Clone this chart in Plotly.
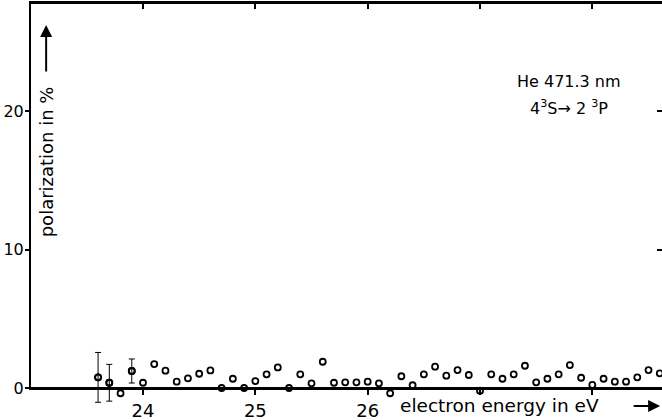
import plotly.graph_objects as go

# electron energy (eV) and polarization (%)
energy = [23.6, 23.7, 23.8, 23.9, 24.0, 24.1, 24.2, 24.3, 24.4, 24.5,
          24.6, 24.7, 24.8, 24.9, 25.0, 25.1, 25.2, 25.3, 25.4, 25.5,
          25.6, 25.7, 25.8, 25.9, 26.0, 26.1, 26.2, 26.3, 26.4, 26.5,
          26.6, 26.7, 26.8, 26.9, 27.0, 27.1, 27.2, 27.3, 27.4, 27.5,
          27.6, 27.7, 27.8, 27.9, 28.0, 28.1, 28.2, 28.3, 28.4, 28.5, 28.6]
polarization = [0.77, 0.38, -0.38, 1.23, 0.38, 1.73, 1.25, 0.46, 0.70, 1.03,
                1.27, 0.0, 0.67, 0.0, 0.50, 0.99, 1.49, 0.0, 0.99, 0.34,
                1.90, 0.38, 0.41, 0.41, 0.46, 0.34, -0.38, 0.85, 0.20, 0.99,
                1.54, 0.89, 1.30, 0.94, -0.20, 0.99, 0.67, 0.99, 1.61, 0.41,
                0.67, 0.99, 1.66, 0.74, 0.22, 0.67, 0.46, 0.46, 0.77, 1.30, 1.06]

# points with error bars
err_energy = [23.6, 23.7, 23.9]
err_value = [0.77, 0.38, 1.23]
err_size = [1.8, 1.33, 0.87]

x_tickvals = [24, 25, 26, 27, 28]
x_ticktext = ["24", "25", "26", "", ""]
y_tickvals = [0, 10, 20]
y_ticktext = ["0", "10", "20"]

FONT = "DejaVu Sans"
X_RANGE = [23.003, 28.62]
Y_TOP = 27.84
Y_DATA_RANGE = [-1.446, Y_TOP]      # data layer reaches a little below zero
Y_FRAME_RANGE = [0, Y_TOP]          # frame (axes) starts at zero
ZERO_POS = (0 - Y_DATA_RANGE[0]) / (Y_DATA_RANGE[1] - Y_DATA_RANGE[0])

marker_style = dict(symbol="circle-open", size=6, color="black", line=dict(width=1.8, color="black"))

fig = go.Figure()
fig.add_trace(go.Scatter(
    x=err_energy, y=err_value, mode="markers", marker=marker_style,
    error_y=dict(type="data", array=err_size, visible=True, color="black", thickness=1, width=3),
    cliponaxis=False, showlegend=False, hoverinfo="skip"))
fig.add_trace(go.Scatter(
    x=energy, y=polarization, mode="markers", marker=marker_style,
    cliponaxis=False, showlegend=False))
# dummy traces to activate the frame axes
fig.add_trace(go.Scatter(x=[None], y=[None], xaxis="x3", yaxis="y3", showlegend=False))
fig.add_trace(go.Scatter(x=[None], y=[None], xaxis="x4", yaxis="y4", showlegend=False))

hidden = dict(visible=False, showgrid=False, zeroline=False, automargin=False)

fig.update_layout(
    width=662, height=420,
    margin=dict(l=31, r=0, t=3, b=12, autoexpand=False),
    paper_bgcolor="white", plot_bgcolor="rgba(0,0,0,0)",
    font=dict(family=FONT, color="black", size=18),
    # data layer
    xaxis=dict(range=X_RANGE, anchor="y", **hidden),
    yaxis=dict(range=Y_DATA_RANGE, anchor="x", **hidden),
    # frame: bottom and left axes
    xaxis3=dict(range=X_RANGE, anchor="y3", domain=[0, 1], automargin=False,
                tickvals=x_tickvals, ticktext=x_ticktext,
                showline=True, linecolor="black", linewidth=2,
                ticks="outside", ticklen=5, tickwidth=2, tickcolor="black",
                showgrid=False, zeroline=False, tickfont=dict(size=18, family=FONT)),
    yaxis3=dict(range=Y_FRAME_RANGE, anchor="x3", domain=[ZERO_POS, 1], automargin=False,
                tickvals=y_tickvals, ticktext=y_ticktext,
                showline=True, linecolor="black", linewidth=2,
                ticks="outside", ticklen=4, tickwidth=2, tickcolor="black",
                ticklabelstandoff=-2,
                showgrid=False, zeroline=False, tickfont=dict(size=16, family=FONT)),
    # frame: top and right ticks
    xaxis4=dict(range=X_RANGE, overlaying="x3", side="top", anchor="y3", automargin=False,
                tickvals=x_tickvals, showticklabels=False,
                showline=True, linecolor="black", linewidth=2,
                ticks="inside", ticklen=6, tickwidth=2, tickcolor="black",
                showgrid=False, zeroline=False),
    yaxis4=dict(range=Y_FRAME_RANGE, overlaying="y3", side="right", anchor="x3", automargin=False,
                tickvals=y_tickvals, showticklabels=False, showline=False,
                ticks="inside", ticklen=5, tickwidth=2, tickcolor="black",
                showgrid=False, zeroline=False),
    # frame lines (bottom axis at zero, top border)
    shapes=[
        dict(type="line", xref="x domain", yref="y", x0=0, x1=1, y0=0, y1=0,
             line=dict(color="black", width=2)),
        dict(type="line", xref="x domain", yref="y domain", x0=0, x1=1, y0=1, y1=1,
             line=dict(color="black", width=2)),
    ],
)

annotations = [
    dict(text="He 471.3 nm", x=0.853, y=0.805, xref="paper", yref="paper",
         xanchor="center", yanchor="middle",
         showarrow=False, font=dict(size=16, family=FONT)),
    dict(text="4<sup>3</sup>S\u2192 2 <sup>3</sup>P", x=0.853, y=0.741, xref="paper", yref="paper",
         xanchor="center", yanchor="middle",
         showarrow=False, font=dict(size=16, family=FONT)),
    dict(text="polarization in %", x=0.024, y=0.607, xref="paper", yref="paper",
         xanchor="center", yanchor="middle",
         textangle=-90, showarrow=False, font=dict(size=18, family=FONT)),
    dict(text="", x=0.024, y=0.9457, xref="paper", yref="paper", ax=0, ay=48,
         showarrow=True, arrowhead=2, arrowsize=1.2, arrowwidth=2, arrowcolor="black"),
    dict(text="electron energy in eV", x=0.742, y=0.0074, xref="paper", yref="paper",
         xanchor="center", yanchor="middle",
         showarrow=False, font=dict(size=18.5, family=FONT)),
    dict(text="", x=0.997, y=0.0049, xref="paper", yref="paper", ax=-28, ay=0,
         showarrow=True, arrowhead=2, arrowsize=1.2, arrowwidth=2, arrowcolor="black"),
]
fig.update_layout(annotations=annotations)

fig.write_html("out.html", config={"displayModeBar": False},
               post_script="document.body.style.margin='0px';")
